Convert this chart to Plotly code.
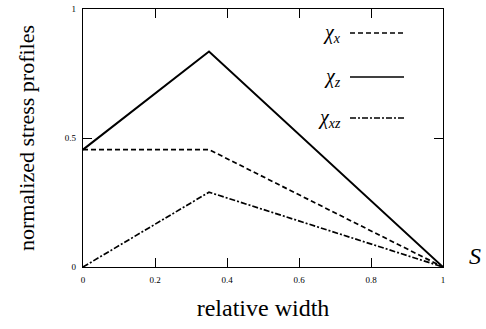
import plotly.graph_objects as go

x_pts = [0, 0.35, 1]
chi_x = [0.455, 0.455, 0]
chi_z = [0.455, 0.835, 0]
chi_xz = [0, 0.29, 0]

x_ticks = [0, 0.2, 0.4, 0.6, 0.8, 1]
x_tick_labels = ["0", "0.2", "0.4", "0.6", "0.8", "1"]
y_ticks = [0, 0.5, 1]
y_tick_labels = ["0", "0.5", "1"]

legend_names = ["<i>χ<sub>x</sub></i>", "<i>χ<sub>z</sub></i>", "<i>χ<sub>xz</sub></i>"]
dash_x = "5px,3px"
dash_xz = "6px,2px,2px,2px"
legend_dash = [dash_x, "solid", dash_xz]

serif = "Liberation Serif"

fig = go.Figure()
for ys, d in [(chi_x, dash_x), (chi_z, "solid"), (chi_xz, dash_xz)]:
    fig.add_trace(go.Scatter(x=x_pts, y=ys, mode="lines",
                             line=dict(color="black", width=2 if d == "solid" else 1.7, dash=d),
                             showlegend=False))

fig.update_layout(
    width=486, height=329,
    margin=dict(l=83, r=43, t=9, b=62, autoexpand=False),
    paper_bgcolor="white", plot_bgcolor="white",
    xaxis=dict(range=[0, 1], tickvals=x_ticks, ticktext=x_tick_labels, automargin=False,
               ticks="inside", ticklen=9, tickcolor="black", mirror="ticks",
               showline=True, linecolor="black", linewidth=1.2, showgrid=False,
               zeroline=False, tickfont=dict(family=serif, size=9, color="black"),
               ticklabelstandoff=4,
               title=dict(text="relative width", font=dict(family=serif, size=24, color="black"),
                          standoff=15)),
    yaxis=dict(range=[0, 1], tickvals=y_ticks, ticktext=y_tick_labels, automargin=False,
               ticks="inside", ticklen=9, tickcolor="black", mirror="ticks",
               showline=True, linecolor="black", linewidth=1.2, showgrid=False,
               zeroline=False, tickfont=dict(family=serif, size=9, color="black"),
               ticklabelstandoff=4,
               title=dict(text="normalized stress profiles", font=dict(family=serif, size=22, color="black"),
                          standoff=24)),
)

legend_y = [33, 77, 118]
for name, d, yp in zip(legend_names, legend_dash, legend_y):
    fig.add_annotation(xref="paper", yref="paper", x=(343 - 83) / 360, y=(267 - yp) / 258,
                       text=name, showarrow=False, xanchor="right", yanchor="middle",
                       font=dict(family=serif, size=20, color="black"))
    fig.add_shape(type="line", xref="paper", yref="paper",
                  x0=(350 - 83) / 360, x1=(404 - 83) / 360,
                  y0=(267 - yp) / 258, y1=(267 - yp) / 258,
                  line=dict(color="black", width=1.7, dash=d))

fig.add_annotation(xref="paper", yref="paper", x=(475 - 83) / 360, y=(267 - 256) / 258,
                   text="<i>S</i>", showarrow=False, xanchor="center", yanchor="middle",
                   font=dict(family=serif, size=24, color="black"))

fig.write_html("out.html", config={"displayModeBar": False},
               post_script="document.body.style.margin='0';")
